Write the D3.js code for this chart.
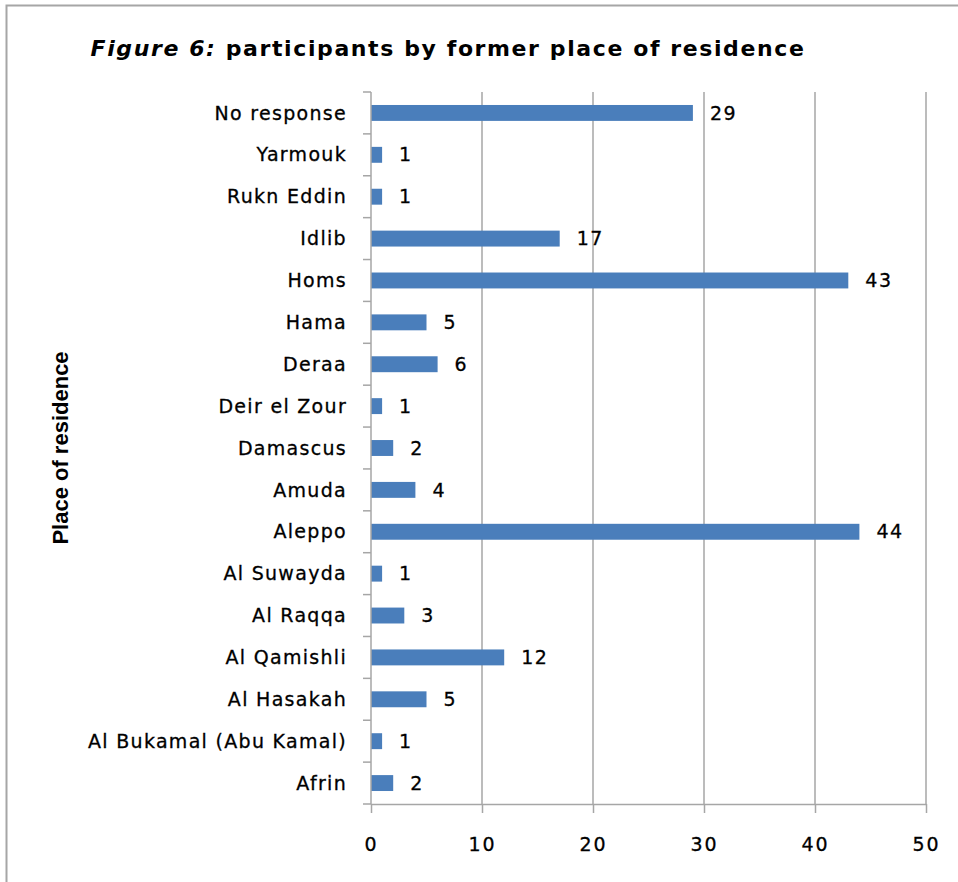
<!DOCTYPE html>
<html><head><meta charset="utf-8">
<script src="https://cdn.jsdelivr.net/npm/d3@7"></script>
<style>
html,body{margin:0;padding:0;background:#fff;}
svg{display:block;}
</style></head>
<body>
<svg id="c" width="958" height="882"></svg>
<script>
const categories = ["No response","Yarmouk","Rukn Eddin","Idlib","Homs","Hama","Deraa","Deir el Zour","Damascus","Amuda","Aleppo","Al Suwayda","Al Raqqa","Al Qamishli","Al Hasakah","Al Bukamal (Abu Kamal)","Afrin"];
const values = [29,1,1,17,43,5,6,1,2,4,44,1,3,12,5,1,2];
const xTicks = [0,10,20,30,40,50];
const titleItalic = "Figure 6:";
const titleRest = " participants by former place of residence";
const yTitle = "Place of residence";

(function(){
const FONT = "'DejaVu Sans', sans-serif";
const svg = d3.select("#c");
const pL = 371, pR = 926, pT = 92, pB = 804;

svg.append("rect").attr("x",6.5).attr("y",5.5).attr("width",1000).attr("height",1000)
  .attr("fill","#fff").attr("stroke","#a6a6a6").attr("stroke-width",2);

const x = d3.scaleLinear().domain([0,50]).range([pL,pR]);
const y = d3.scaleBand().domain(categories).range([pT,pB]).paddingInner(0.62).paddingOuter(0.31);
const yb = d3.scaleBand().domain(categories).range([pT,pB]);

svg.append("g").selectAll("line").data(xTicks.slice(1)).join("line")
  .attr("x1",d=>x(d)).attr("x2",d=>x(d)).attr("y1",pT).attr("y2",pB)
  .attr("stroke","#a6a6a6").attr("stroke-width",1.5);

svg.append("g").selectAll("rect").data(categories).join("rect")
  .attr("x",x(0)).attr("y",d=>y(d)).attr("height",y.bandwidth())
  .attr("width",(d,i)=>x(values[i])-x(0))
  .attr("fill","#4a7ebb");

const xa = svg.append("g").attr("transform",`translate(0,${pB})`)
  .call(d3.axisBottom(x).tickValues(xTicks).tickSize(9).tickPadding(25).tickSizeOuter(0));
xa.select(".domain").attr("stroke","#a6a6a6").attr("stroke-width",1.5);
xa.selectAll(".tick line").attr("stroke","#a6a6a6").attr("stroke-width",1.5);
xa.selectAll("text").attr("font-family",FONT).attr("font-size",19).attr("letter-spacing",2)
  .attr("fill","#000").attr("stroke","#000").attr("stroke-width",0.3);

const yTickVals = d3.range(categories.length+1);
const ya = svg.append("g").attr("transform",`translate(${pL},0)`);
ya.append("line").attr("x1",0).attr("x2",0).attr("y1",pT).attr("y2",pB).attr("stroke","#a6a6a6").attr("stroke-width",1.5);
ya.selectAll("line.t").data(yTickVals).join("line").attr("class","t")
  .attr("x1",-8).attr("x2",0).attr("y1",i=>pT+i*yb.step()).attr("y2",i=>pT+i*yb.step())
  .attr("stroke","#a6a6a6").attr("stroke-width",1.5);
ya.selectAll("text").data(categories).join("text")
  .attr("x",-24).attr("y",d=>yb(d)+yb.bandwidth()/2).attr("dy","0.35em")
  .attr("text-anchor","end").attr("font-family",FONT).attr("font-size",19).attr("letter-spacing",1.3)
  .attr("fill","#000").attr("stroke","#000").attr("stroke-width",0.3)
  .text(d=>d);

svg.append("g").selectAll("text").data(categories).join("text")
  .attr("x",(d,i)=>x(values[i])+17).attr("y",d=>yb(d)+yb.bandwidth()/2).attr("dy","0.35em")
  .attr("font-family",FONT).attr("font-size",19).attr("letter-spacing",1.5)
  .attr("fill","#000").attr("stroke","#000").attr("stroke-width",0.3)
  .text((d,i)=>values[i]);

const t = svg.append("text").attr("x",448).attr("y",56).attr("text-anchor","middle")
  .attr("font-family",FONT).attr("font-size",22).attr("font-weight","bold").attr("letter-spacing",1.6).attr("fill","#000");
t.append("tspan").attr("font-style","italic").text(titleItalic);
t.append("tspan").text(titleRest);

svg.append("text").attr("transform","translate(68,448) rotate(-90)").attr("text-anchor","middle")
  .attr("font-family","'Liberation Sans', sans-serif").attr("font-weight","bold").attr("font-size",22)
  .attr("fill","#000").text(yTitle);
})();
</script>
</body></html>
